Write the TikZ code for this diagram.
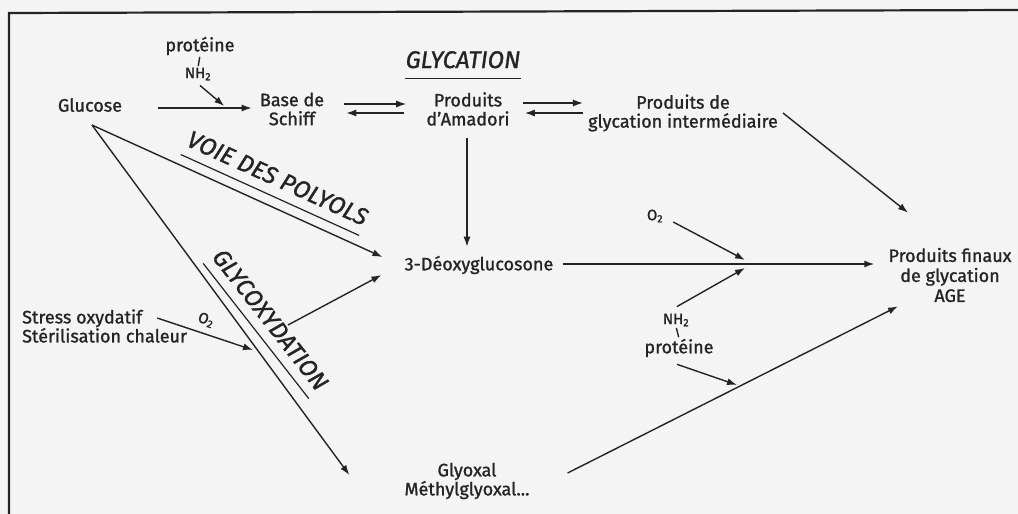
\documentclass[tikz,border=0pt]{standalone}
\usepackage{fontspec}
\setmainfont{Fira Sans}[FakeBold=1.2]
\usetikzlibrary{arrows.meta,calc}
\definecolor{ink}{RGB}{36,36,36}
\definecolor{paper}{RGB}{244,244,244}
\begin{document}
\begin{tikzpicture}[x=1pt,y=-1pt,
  txt/.style={font=\fontsize{18}{19}\selectfont, align=center, inner sep=0pt, text=ink},
  small/.style={font=\fontsize{15}{16}\selectfont, inner sep=0pt, text=ink},
  title/.style={font=\itshape\fontsize{24}{24}\selectfont, inner xsep=0pt, inner ysep=10pt, text depth=0pt, text=ink},
  ln/.style={draw=ink, line width=1.4pt},
  uline/.style={draw=ink, line width=1.2pt},
  arr/.style={draw=ink, line width=1.4pt, -{Latex[length=10pt,width=7pt]}}]

% paper and frame
\fill[paper] (0,0) rectangle (1018,514);
\useasboundingbox (0,0) rectangle (1018,514);
\draw[ink, line width=2.2pt] (9,514) -- (9,13) -- (1018,10);

% compounds
\node[txt] (glu) at (90,105) {Glucose};
\node[txt] (prot1) at (200,46) {protéine};
\node[small] (nh1) at (198,74) {NH\textsubscript{2}};
\node[txt] (schiff) at (292,109) {Base de\\Schiff};
\node[txt] (amadori) at (468,109) {Produits\\d'Amadori};
\node[txt] (pgi) at (683,113) {Produits de\\glycation intermédiaire};
\node[txt, font=\fontsize{18}{20}\selectfont] (age) at (950,275) {Produits finaux\\de glycation\\AGE};
\node[txt] (deoxy) at (479,265) {3-Déoxyglucosone};
\node[small] (o2a) at (655,216) {O\textsubscript{2}};
\node[small] (nh2b) at (676,320) {NH\textsubscript{2}};
\node[txt] (prot2) at (679,348) {protéine};
\node[txt] (glyox) at (467,481) {Glyoxal\\Méthylglyoxal...};
\node[txt, align=left, anchor=west] (stress) at (22,326) {Stress oxydatif\\Stérilisation chaleur};
\node[small, rotate=-18] (o2c) at (206,320) {O\textsubscript{2}};

% pathway titles
\node[title, anchor=base] (glyc) at (463,68) {GLYCATION};
\draw[uline] (glyc.south west) -- (glyc.south east);
\node[title, rotate=-24.4, anchor=south] (voie) at (270,195) {VOIE DES POLYOLS};
\draw[uline] (voie.south west) -- (voie.south east);
\node[title, rotate=-52, anchor=south] (glycox) at (256,331) {GLYCOXYDATION};
\draw[uline] (glycox.south west) -- (glycox.south east);

% junction points on the reaction lines
\coordinate (g0) at ($(glu.south)+(2,13)$);
\coordinate (j1) at ($(glu.east)+(102,1)$);
\coordinate (j2) at (745,260);
\coordinate (j3) at (745,268);
\coordinate (j4) at (737,385);
\coordinate (j5) at (253,350);
\coordinate (j6) at (288,325);

% protein bonds
\draw[ln, shorten <=1.5pt, shorten >=1.5pt] (prot1.south) -- (nh1.north);
\draw[ln, shorten <=1.5pt, shorten >=1.5pt] (nh2b.south) -- (prot2.north);

% glycation
\draw[arr] ($(glu.east)+(36,3)$) -- ($(schiff.west |- glu.east)+(-8,3)$);
\draw[arr] ($(nh1.south)+(2,5)$) -- (j1);
\draw[arr] ($(schiff.east)+(20,-5)$) -- ($(amadori.west)+(-20,-5)$);
\draw[arr] ($(amadori.west)+(-22,4)$) -- ($(schiff.east)+(22,4)$);
\draw[arr] ($(amadori.east)+(13,-6)$) -- ($(pgi.west)+(-5,-10)$);
\draw[arr] ($(pgi.west)+(-5,0)$) -- ($(amadori.east)+(15,4)$);
\draw[arr] ($(amadori.south)+(-1,12)$) -- ($(deoxy.north -| amadori.south)+(-1,-9)$);
\draw[arr] ($(pgi.east)+(5,0)$) -- ($(age.north)+(-42,-35)$);

% 3-deoxyglucosone to AGE
\draw[arr] ($(deoxy.east)+(9,-1)$) -- ($(deoxy.east -| age.west)+(-14,-1)$);
\draw[arr] ($(o2a.east)+(10,6)$) -- (j2);
\draw[arr] ($(nh2b.north)+(1,-7)$) -- (j3);
\draw[arr] ($(prot2.south)+(-2,7)$) -- (j4);
\draw[arr] ($(glyox.east)+(38,-8)$) -- ($(age.south)+(-52,4)$);

% polyol and glycoxidation routes
\draw[arr] (g0) -- ($(deoxy.west)+(-22,-8)$);
\draw[arr] (g0) -- ($(glyox.west)+(-55,-6)$);
\draw[arr] ($(stress.east)+(-30,-8)$) -- (j5);
\draw[arr] (j6) -- ($(deoxy.west)+(-23,10)$);
\end{tikzpicture}
\end{document}
